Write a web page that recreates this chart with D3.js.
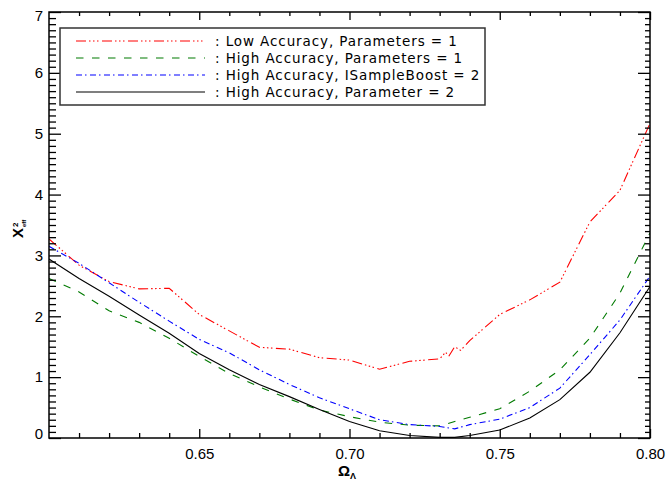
<!DOCTYPE html>
<html>
<head>
<meta charset="utf-8">
<script src="https://cdn.jsdelivr.net/npm/d3@7"></script>
<style>
  html, body { margin: 0; padding: 0; background: #fff; }
  svg { display: block; }
</style>
</head>
<body>
<svg id="chart" width="667" height="483"></svg>
<script>
// ---------------- data ----------------
const omega = [0.60, 0.61, 0.62, 0.63, 0.64, 0.65, 0.66, 0.67, 0.68, 0.69, 0.70,
               0.71, 0.72, 0.73, 0.735, 0.74, 0.75, 0.76, 0.77, 0.78, 0.79, 0.80];
const omegaLow = [0.60, 0.61, 0.62, 0.63, 0.64, 0.65, 0.66, 0.67, 0.68, 0.69, 0.70,
                  0.71, 0.72, 0.73, 0.732, 0.733, 0.735, 0.737, 0.74, 0.75, 0.76,
                  0.77, 0.78, 0.79, 0.80];
const lowAccP1 = [3.27, 2.84, 2.57, 2.45, 2.46, 2.03, 1.76, 1.49, 1.46, 1.32, 1.28,
                  1.13, 1.26, 1.30, 1.41, 1.34, 1.50, 1.44, 1.60, 2.03, 2.27,
                  2.56, 3.55, 4.07, 5.17];
const highAccP1 = [2.62, 2.40, 2.09, 1.90, 1.64, 1.34, 1.06, 0.84, 0.64, 0.46, 0.35,
                   0.26, 0.21, 0.20, 0.27, 0.34, 0.48, 0.77, 1.12, 1.64, 2.38, 3.37];
const highAccBoost2 = [3.15, 2.87, 2.55, 2.23, 1.92, 1.62, 1.40, 1.12, 0.88, 0.66, 0.48,
                       0.30, 0.22, 0.19, 0.15, 0.22, 0.31, 0.50, 0.82, 1.37, 1.94, 2.66];
const highAccP2 = [2.94, 2.62, 2.33, 2.02, 1.72, 1.39, 1.12, 0.88, 0.68, 0.47, 0.27,
                   0.12, 0.04, 0.01, 0.01, 0.04, 0.13, 0.33, 0.63, 1.08, 1.73, 2.49];

const legendLabels = [": Low Accuracy, Parameters = 1",
                      ": High Accuracy, Parameters = 1",
                      ": High Accuracy, ISampleBoost = 2",
                      ": High Accuracy, Parameter = 2"];
const xMajorTicks = [0.65, 0.70, 0.75, 0.80];
const yMajorTicks = [0, 1, 2, 3, 4, 5, 6, 7];

// ---------------- layout ----------------
const W = 667, H = 483;
const L = 49, R = 650, T = 12, B = 438;
const svg = d3.select("#chart");
const x = d3.scaleLinear().domain([0.6, 0.8]).range([L, R]);
const y = d3.scaleLinear().domain([0, 7]).range([B, T]);

const FONT = "'Liberation Sans', Arial, sans-serif";

const series = [
  { xs: omegaLow, ys: lowAccP1, color: "#ff0000", dash: "10,3,1.5,2.5,1.5,2.5,1.5,3.5" },
  { xs: omega, ys: highAccP1, color: "#007a00", dash: "7.5,8.5" },
  { xs: omega, ys: highAccBoost2, color: "#0000ff", dash: "6,3,1.5,3.5" },
  { xs: omega, ys: highAccP2, color: "#000000", dash: null }
];

// ---------------- lines ----------------
svg.append("clipPath").attr("id", "plotclip")
  .append("rect").attr("x", L).attr("y", T).attr("width", R - L).attr("height", B - T);

const line = d3.line().x(d => x(d[0])).y(d => y(d[1]));
const gLines = svg.append("g").attr("clip-path", "url(#plotclip)");
series.forEach(s => {
  const pts = s.xs.map((v, i) => [v, s.ys[i]]);
  gLines.append("path")
    .attr("d", line(pts))
    .attr("fill", "none")
    .attr("stroke", s.color)
    .attr("stroke-width", 1.1)
    .attr("stroke-dasharray", s.dash);
});

// ---------------- axes ----------------
const xMinor = d3.range(61, 80).map(v => v / 100).filter(v => !xMajorTicks.some(m => Math.abs(m - v) < 1e-9));
const yMinor = d3.range(1, 70).map(v => v / 10).filter(v => Math.abs(v - Math.round(v)) > 1e-9);

function styleAxis(g) {
  g.selectAll("path.domain").remove();
  g.selectAll(".tick line").attr("stroke", "#000").attr("stroke-width", 1.3);
  g.selectAll("text").attr("font-family", FONT).attr("font-size", 15).attr("fill", "#000");
}

// bottom
svg.append("g").attr("transform", `translate(0,${B})`)
  .call(d3.axisBottom(x).tickValues(xMajorTicks).tickSizeInner(-9).tickSizeOuter(0)
        .tickPadding(10).tickFormat(d3.format(".2f")))
  .call(styleAxis);
svg.append("g").attr("transform", `translate(0,${B})`)
  .call(d3.axisBottom(x).tickValues(xMinor).tickSizeInner(-5).tickSizeOuter(0).tickFormat(""))
  .call(styleAxis);
// top
svg.append("g").attr("transform", `translate(0,${T})`)
  .call(d3.axisTop(x).tickValues(xMajorTicks).tickSizeInner(-8).tickSizeOuter(0).tickFormat(""))
  .call(styleAxis);
svg.append("g").attr("transform", `translate(0,${T})`)
  .call(d3.axisTop(x).tickValues(xMinor).tickSizeInner(-4).tickSizeOuter(0).tickFormat(""))
  .call(styleAxis);
// left
const gLeft = svg.append("g").attr("transform", `translate(${L},0)`)
  .call(d3.axisLeft(y).tickValues(yMajorTicks).tickSizeInner(-12).tickSizeOuter(0)
        .tickPadding(6).tickFormat(d3.format("d")))
  .call(styleAxis);
gLeft.selectAll(".tick text").attr("y", d => (d === 7 ? 4 : d === 0 ? -4 : 0));
svg.append("g").attr("transform", `translate(${L},0)`)
  .call(d3.axisLeft(y).tickValues(yMinor).tickSizeInner(-7).tickSizeOuter(0).tickFormat(""))
  .call(styleAxis);
// right
svg.append("g").attr("transform", `translate(${R},0)`)
  .call(d3.axisRight(y).tickValues(yMajorTicks).tickSizeInner(-12).tickSizeOuter(0).tickFormat(""))
  .call(styleAxis);
svg.append("g").attr("transform", `translate(${R},0)`)
  .call(d3.axisRight(y).tickValues(yMinor).tickSizeInner(-5).tickSizeOuter(0).tickFormat(""))
  .call(styleAxis);

// frame
svg.append("rect").attr("x", L).attr("y", T).attr("width", R - L).attr("height", B - T)
  .attr("fill", "none").attr("stroke", "#000").attr("stroke-width", 1.5);

// ---------------- axis titles ----------------
const xt = svg.append("text").attr("x", 338).attr("y", 476)
  .attr("font-family", FONT).attr("font-weight", "bold").attr("font-size", 15).attr("fill", "#000");
xt.append("tspan").text("Ω");
xt.append("tspan").attr("font-size", 9).attr("dy", 3).text("Λ");

const yt = svg.append("g").attr("transform", "translate(23,238) rotate(-90)");
yt.append("text").attr("x", 0).attr("y", 0)
  .attr("font-family", FONT).attr("font-weight", "bold").attr("font-size", 15).text("X");
yt.append("text").attr("x", 11).attr("y", -5)
  .attr("font-family", FONT).attr("font-weight", "bold").attr("font-size", 8).text("2");
yt.append("text").attr("x", 11).attr("y", 3)
  .attr("font-family", FONT).attr("font-weight", "bold").attr("font-size", 6).text("eff");

// ---------------- legend ----------------
const lg = svg.append("g");
lg.append("rect").attr("x", 60).attr("y", 28).attr("width", 425).attr("height", 77)
  .attr("fill", "#fff").attr("stroke", "#333").attr("stroke-width", 1.5);
legendLabels.forEach((lab, i) => {
  const yy = 41 + i * 17;
  lg.append("line").attr("x1", 76).attr("x2", 205).attr("y1", yy).attr("y2", yy)
    .attr("stroke", series[i].color).attr("stroke-width", 1.1)
    .attr("stroke-dasharray", series[i].dash);
  lg.append("text").attr("x", 215).attr("y", yy + 5)
    .attr("font-family", "'DejaVu Sans', sans-serif").attr("font-size", 13.5)
    .attr("letter-spacing", 0.9).attr("fill", "#000").text(lab);
});
</script>
</body>
</html>
